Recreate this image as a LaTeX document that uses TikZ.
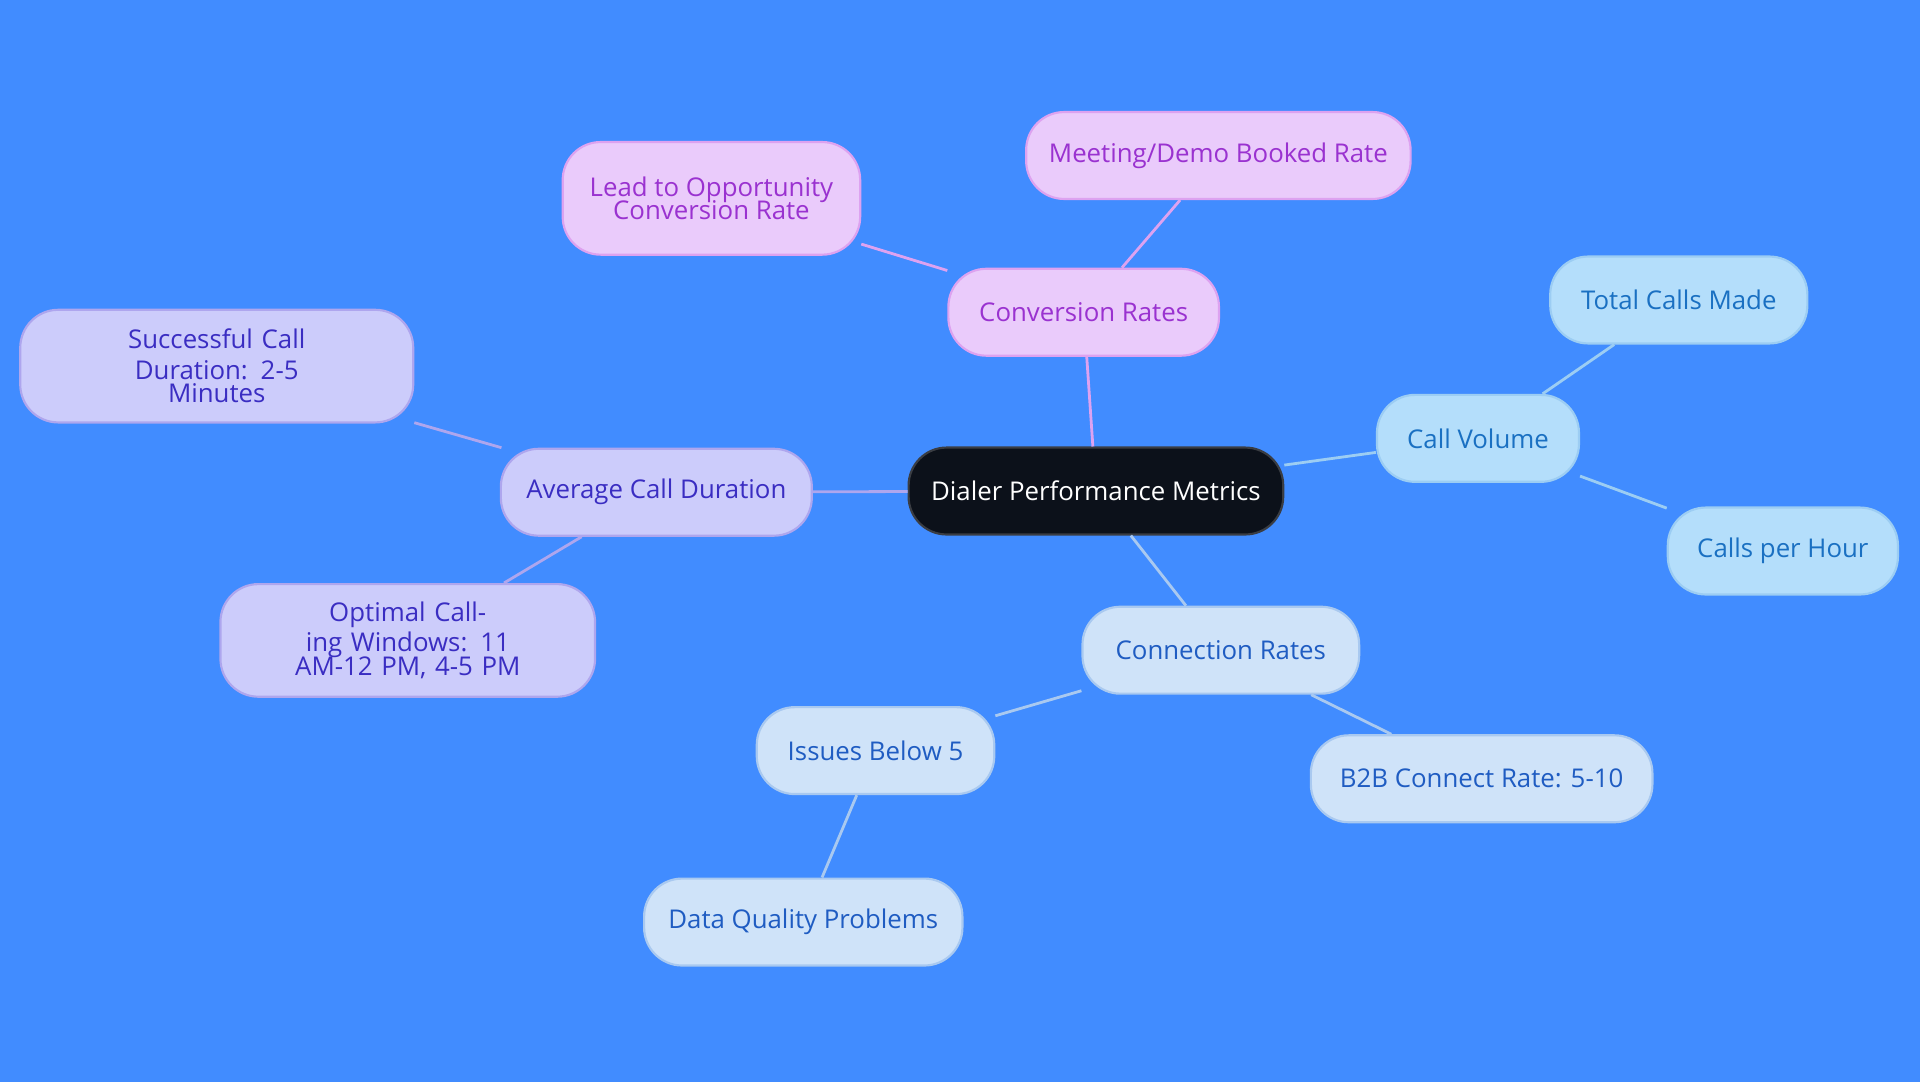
\documentclass[tikz,border=0pt]{standalone}
\usepackage{fontspec}
\setmainfont{Open Sans}
\definecolor{bgblue}{HTML}{418CFF}
\definecolor{rootfill}{HTML}{0C111A}
\definecolor{pinkfill}{HTML}{EACBFB}
\definecolor{pinkline}{HTML}{DDA2F0}
\definecolor{pinktext}{HTML}{9A32D0}
\definecolor{skyfill}{HTML}{B4DEFB}
\definecolor{skyline}{HTML}{9CCDF3}
\definecolor{skytext}{HTML}{1A70C2}
\definecolor{palefill}{HTML}{CFE3F9}
\definecolor{paleline}{HTML}{A9C9F0}
\definecolor{paletext}{HTML}{1F5CC2}
\definecolor{lilacfill}{HTML}{CCCCFB}
\definecolor{lilacline}{HTML}{AEA6EE}
\definecolor{lilactext}{HTML}{3A2DC2}
\begin{document}
\begin{tikzpicture}[x=0.02cm,y=-0.02cm,thick,
  base node/.style={rounded corners=0.62cm,minimum height=1.42cm,align=center,font=\large,draw,line width=1pt},
  root node/.style={base node,fill=rootfill,draw=rootfill!60!gray,text=white},
  conv node/.style={base node,fill=pinkfill,draw=pinkline,text=pinktext},
  vol node/.style={base node,fill=skyfill,draw=skyline,text=skytext},
  conn node/.style={base node,fill=palefill,draw=paleline,text=paletext},
  dur node/.style={base node,fill=lilacfill,draw=lilacline,text=lilactext}]
  \fill[bgblue] (0,0) rectangle (1568,884);
  \useasboundingbox (0,0) rectangle (1568,884);

  \node[root node,minimum width=6.12cm] (root) at (895,401) {Dialer Performance Metrics};

  \node[conv node,minimum width=4.42cm] (conv) at (885,255) {Conversion Rates};
  \node[conv node,minimum width=6.28cm] (meet) at (995,127) {Meeting/Demo Booked Rate};
  \node[conv node,minimum width=4.86cm,minimum height=1.84cm] (lead) at (581,162) {Lead to Opportunity\\[-3pt]Conversion Rate};

  \node[vol node,minimum width=3.3cm] (vol) at (1207,358) {Call Volume};
  \node[vol node,minimum width=4.2cm] (total) at (1371,245) {Total Calls Made};
  \node[vol node,minimum width=3.76cm] (hour) at (1456,450) {Calls per Hour};

  \node[conn node,minimum width=4.52cm] (conn) at (997,531) {Connection Rates};
  \node[conn node,minimum width=3.88cm] (issue) at (715,613) {Issues Below 5};
  \node[conn node,minimum width=5.2cm] (data) at (656,753) {Data Quality Problems};
  \node[conn node,minimum width=5.58cm] (b2b) at (1210,636) {B2B Connect Rate: 5-10};

  \node[dur node,minimum width=5.08cm] (dur) at (536,402) {Average Call Duration};
  \node[dur node,minimum width=6.42cm,minimum height=1.84cm,text width=5.6cm] (succ) at (177,299) {Successful Call Duration: 2-5\\[-3pt]Minutes};
  \node[dur node,minimum width=6.12cm,minimum height=1.84cm,text width=5.4cm] (opt) at (333,523) {Optimal Calling Windows: 11\\[-3pt]AM-12 PM, 4-5 PM};

  \path[line width=1.3pt]
    (root) edge[pinkline] (conv)
    (conv) edge[pinkline] (meet)
    (conv) edge[pinkline] (lead)
    (root) edge[skyline] (vol)
    (vol) edge[skyline] (total)
    (vol) edge[skyline] (hour)
    (root) edge[paleline] (conn)
    (conn) edge[paleline] (issue)
    (issue) edge[paleline] (data)
    (conn) edge[paleline] (b2b)
    (root) edge[lilacline] (dur)
    (dur) edge[lilacline] (succ)
    (dur) edge[lilacline] (opt);
\end{tikzpicture}
\end{document}
